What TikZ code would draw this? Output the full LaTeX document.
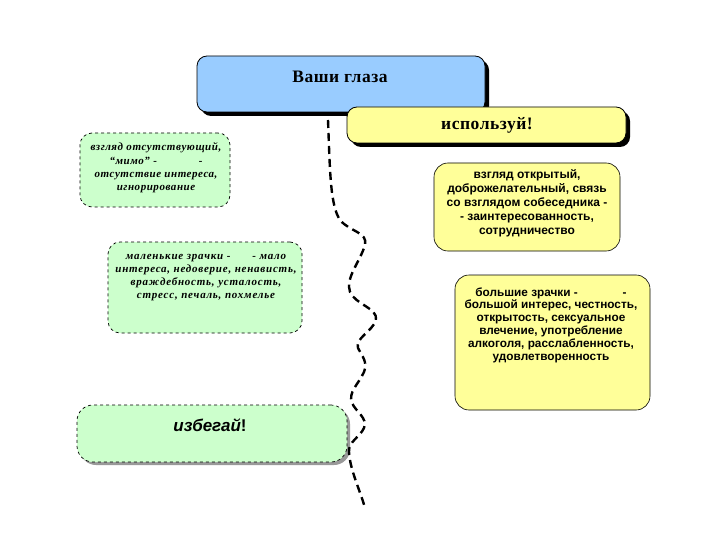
\documentclass[tikz,border=0pt]{standalone}
\usepackage{fontspec}
\setmainfont{Liberation Serif}
\setsansfont{Liberation Sans}
\newfontfamily\grfont[LetterSpace=5]{Liberation Serif}
\newfontfamily\grwfont[LetterSpace=7]{Liberation Serif}
\newfontfamily\ttlfont[LetterSpace=3]{Liberation Serif}
\usetikzlibrary{shadows}
\definecolor{boxblue}{HTML}{99CCFF}
\definecolor{boxyellow}{HTML}{FFFF99}
\definecolor{boxgreen}{HTML}{CCFFCC}
\tikzset{
  base/.style={draw=black, rounded corners=10pt, inner sep=0pt},
  bluebox/.style={base, fill=boxblue, line width=0.8pt,
     drop shadow={shadow xshift=4pt, shadow yshift=-4pt, fill=black, opacity=1}},
  ybox/.style={base, fill=boxyellow, line width=0.8pt,
     drop shadow={shadow xshift=4pt, shadow yshift=-4pt, fill=black, opacity=1}},
  ylbox/.style={base, fill=boxyellow, line width=0.6pt, rounded corners=14pt},
  gbox/.style={base, fill=boxgreen, dashed, line width=0.7pt, rounded corners=12pt},
  gsbox/.style={gbox, rounded corners=16pt,
     drop shadow={shadow xshift=3pt, shadow yshift=-3pt, fill=gray!80, opacity=1}},
  gtext/.style={align=center, font=\grfont\bfseries\itshape\fontsize{11}{13.4}\selectfont},
  gwtext/.style={align=center, font=\grwfont\bfseries\itshape\fontsize{11}{13.2}\selectfont},
  ytext/.style={align=center, font=\sffamily\bfseries\fontsize{12}{14}\selectfont},
  ttl/.style={font=\ttlfont\bfseries\fontsize{17.5}{20}\selectfont},
  wave/.style={line width=2.4pt, dash pattern=on 8pt off 5pt, line join=round},
}
\begin{document}
\begin{tikzpicture}[x=1pt,y=-1pt]
\useasboundingbox[fill=white] (0,0) rectangle (720,540);
% boxes
\node[bluebox, minimum width=288pt, minimum height=56pt] (blue) at (341,84) {};
\node[ttl] (bluet) at (340,77) {Ваши глаза};
\node[ybox, minimum width=279pt, minimum height=36pt] (use) at (486.5,125) {};
\node[ttl] (uset) at (487,125) {используй!};

\node[gbox, minimum width=150pt, minimum height=74pt] (g1) at (155,170) {};
\node[gtext] (g1t) at (156,168) {взгляд отсутствующий,\\“мимо” -\hspace{3.8em}-\\отсутствие интереса,\\игнорирование};

\node[ylbox, minimum width=186pt, minimum height=88pt] (y2) at (527,207) {};
\node[ytext] (y2t) at (527,203.5) {взгляд открытый,\\доброжелательный, связь\\со взглядом собеседника -\\- заинтересованность,\\сотрудничество};

\node[gbox, minimum width=194pt, minimum height=91pt] (g2) at (205,287.5) {};
\node[gwtext] (g2t) at (206,277.5) {маленькие зрачки -\hspace{2em}- мало\\интереса, недоверие, ненависть,\\враждебность, усталость,\\стресс, печаль, похмелье};

\node[ylbox, minimum width=195pt, minimum height=135pt] (y3) at (552.5,342.5) {};
\node[ytext, font=\sffamily\bfseries\fontsize{11.8}{12.8}\selectfont] (y3t) at (551,325) {большие зрачки -\hspace{3.8em}-\\большой интерес, честность,\\открытость, сексуальное\\влечение, употребление\\алкоголя, расслабленность,\\удовлетворенность};

\node[gsbox, minimum width=270pt, minimum height=57pt] (g3) at (212,433.5) {};
\node[font=\sffamily\bfseries\itshape\fontsize{17}{20}\selectfont] (g3t) at (210,425) {избегай{\upshape !}};

% wavy dashed line
\coordinate (w0) at (328,120);
\coordinate (w9) at (365,508);
\draw[wave] (w0) .. controls (330,170) and (330,205) .. (340,220)
  .. controls (350,232) and (368,232) .. (365,245)
  .. controls (360,262) and (345,278) .. (350,292)
  .. controls (356,305) and (378,308) .. (376,320)
  .. controls (372,332) and (355,338) .. (358,348)
  .. controls (362,356) and (368,362) .. (364,372)
  .. controls (358,385) and (348,392) .. (352,403)
  .. controls (356,412) and (368,418) .. (364,428)
  .. controls (360,437) and (348,442) .. (349,452)
  .. controls (350,470) and (360,490) .. (w9);
\end{tikzpicture}
\end{document}
